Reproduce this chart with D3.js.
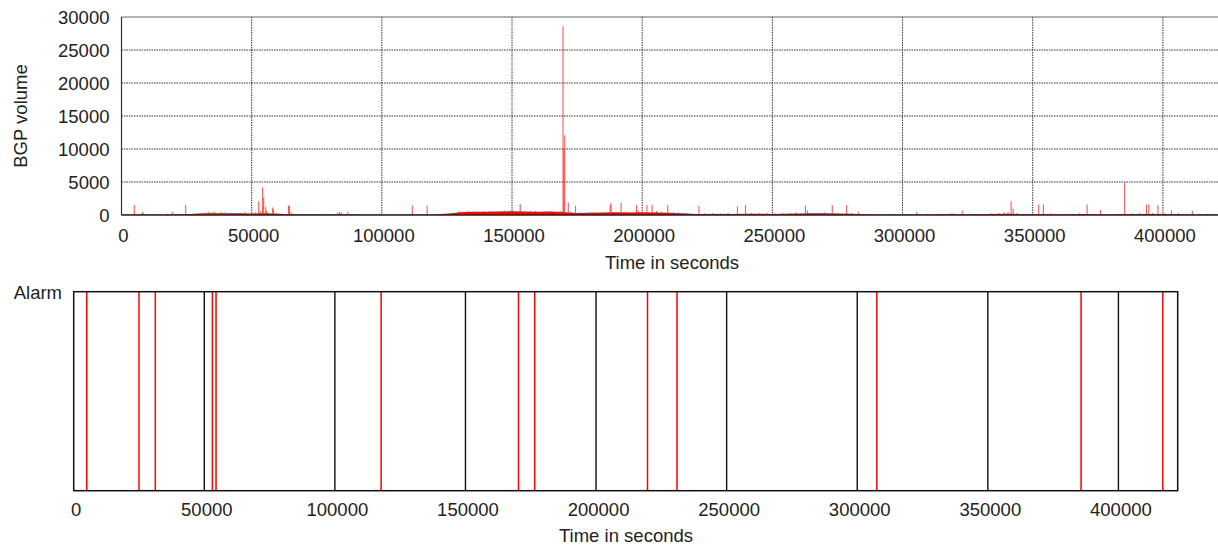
<!DOCTYPE html>
<html>
<head>
<meta charset="utf-8">
<script src="https://cdn.jsdelivr.net/npm/d3@7"></script>
<style>
  html, body { margin: 0; padding: 0; background: #fff; }
  svg { display: block; font-family: "Liberation Sans", Arial, Helvetica, sans-serif; }
</style>
</head>
<body>
<svg id="chart" width="1218" height="547"></svg>
<script>
// ---------- DATA ----------
const timeMax = 422700;                       // end of recorded period (s)
const xTicks = [0, 50000, 100000, 150000, 200000, 250000, 300000, 350000, 400000];
const yTicks = [0, 5000, 10000, 15000, 20000, 25000, 30000];
const xLabel = "Time in seconds";
const yLabel = "BGP volume";
const alarmLabel = "Alarm";

// background BGP volume level [time, volume]
const baseline = [
  [0,60],[5000,80],[10000,60],[15000,70],[20000,90],[25000,100],[30000,220],[35000,280],
  [40000,280],[45000,250],[50000,220],[55000,280],[60000,200],[65000,130],[70000,60],[75000,60],
  [80000,70],[85000,130],[90000,60],[95000,50],[100000,60],[105000,50],[110000,60],[115000,70],
  [120000,90],[125000,200],[130000,420],[135000,480],[140000,500],[145000,540],[150000,580],
  [155000,520],[160000,500],[165000,520],[170000,420],[175000,320],[180000,340],[185000,370],
  [190000,400],[195000,380],[200000,400],[205000,370],[210000,340],[215000,260],[220000,170],
  [225000,150],[230000,160],[235000,170],[240000,180],[245000,190],[250000,170],[255000,200],
  [260000,230],[265000,250],[270000,260],[275000,230],[280000,200],[285000,110],[290000,90],
  [295000,80],[300000,80],[305000,90],[310000,80],[315000,100],[320000,130],[325000,120],
  [330000,110],[335000,170],[340000,200],[345000,130],[350000,110],[355000,120],[360000,90],
  [365000,100],[370000,120],[375000,90],[380000,80],[385000,100],[390000,120],[395000,140],
  [400000,130],[405000,120],[410000,90],[415000,80],[420000,70],[422700,60]
];

// individual BGP volume impulses [time, volume]
const spikes = [
  [4900,1500],[8000,400],[8300,300],[15000,150],[17500,200],[19500,500],[21000,200],[24650,1500],[26000,150],
  [29000,250],[30500,300],[31500,350],[32500,400],[33500,450],[34300,350],[35200,450],[36000,400],[37000,300],
  [38200,450],[39000,350],[40000,400],[41000,300],[42000,350],[43000,300],[44500,250],[46000,300],[47500,450],
  [50500,300],[51500,400],[52700,2100],[53500,600],[54200,4200],[54600,2600],[55400,1250],[55750,600],[56500,300],
  [58050,1150],[58400,800],[59500,300],[61000,200],[64200,1450],[64500,1400],[65200,400],[67000,150],[72000,150],
  [76000,120],[79000,150],[83100,400],[83800,450],[84500,350],[86900,500],[90000,120],[99000,200],[101000,150],
  [104000,100],[111700,1450],[117400,1450],[121000,150],[124000,250],[126000,300],[129700,550],[131000,500],
  [133000,600],[135500,550],[137000,500],[139000,600],[141500,650],[143000,550],[145000,600],[147000,700],
  [149000,650],[151000,600],[153150,1650],[155000,550],[157000,500],[159000,600],[161000,500],[163000,600],
  [165000,550],[167000,500],[168500,600],
  [169600,28600],[169900,10000],[170250,12100],
  [171600,1900],[172500,500],[174400,1400],[176000,400],[178000,350],[180000,450],[182000,400],[184000,350],
  [186000,500],[187700,1500],[188000,1800],[190000,450],[191900,1800],[193500,500],[195000,450],[197800,1500],
  [198500,700],[200000,500],[201800,1500],[203800,1550],[205500,600],[207500,500],[209800,1500],[212000,400],
  [214000,350],[217000,300],[219000,250],[221800,1350],[224000,250],[227000,300],[230000,250],[233000,300],
  [236600,1300],[239700,1500],[242000,300],[245000,250],[248000,300],[251000,250],[254000,350],[257000,300],
  [259000,400],[262700,1400],[263500,700],[265000,350],[268000,300],[270000,400],[273000,1500],[275000,300],
  [278500,1500],[280500,300],[283000,500],[287000,150],[291000,200],[296000,150],[300500,150],[305400,400],
  [310000,150],[315000,200],[319000,300],[322900,650],[326000,200],[330000,150],[334000,250],[337000,350],
  [339000,400],[340500,450],[341700,2100],[342500,900],[344000,300],[347000,200],[352300,1600],[354100,1600],
  [357000,250],[361000,200],[365000,150],[368000,250],[370900,1600],[373000,200],[376000,750],[380000,150],
  [383000,200],[385300,4950],[388000,250],[391000,300],[393700,1600],[394600,1600],[396000,300],[398100,1500],
  [400500,250],[403300,700],[406000,250],[409000,200],[411300,600],[414000,150],[417000,200],[419000,150]
];

// alarm times (s)
const alarms = [5000, 25000, 31250, 53100, 54500, 117700, 170300, 176500, 219700, 231000, 307500, 385700, 417000];

// ---------- DRAW ----------
const svg = d3.select("#chart");
const font = 18.5;
const txt = "#222";

// ===== Top panel =====
const T = { left: 121.5, right: 1222, top: 17, bottom: 215 };
const x1 = d3.scaleLinear().domain([0, timeMax]).range([T.left, T.right]);
const y1 = d3.scaleLinear().domain([0, 30000]).range([T.bottom, T.top]);

svg.append("defs").append("clipPath").attr("id", "clipTop")
  .append("rect").attr("x", T.left).attr("y", T.top).attr("width", T.right - T.left).attr("height", T.bottom - T.top);

const gTop = svg.append("g");

// grid
gTop.append("g").selectAll("line").data(yTicks.filter(d => d > 0 && d < 30000)).join("line")
  .attr("x1", T.left).attr("x2", T.right).attr("y1", d => y1(d)).attr("y2", d => y1(d))
  .attr("stroke", "#333").attr("stroke-width", 1).attr("stroke-dasharray", "1.5,1");
gTop.append("g").selectAll("line").data(xTicks.filter(d => d > 0)).join("line")
  .attr("x1", d => x1(d)).attr("x2", d => x1(d)).attr("y1", T.top).attr("y2", T.bottom)
  .attr("stroke", "#333").attr("stroke-width", 1).attr("stroke-dasharray", "1.5,1");

// data
const plot = gTop.append("g").attr("clip-path", "url(#clipTop)");
plot.append("path").datum(baseline)
  .attr("d", d3.area().x(d => x1(d[0])).y0(y1(0)).y1(d => y1(d[1])))
  .attr("fill", "#ff0000");
plot.append("g").selectAll("line").data(spikes).join("line")
  .attr("x1", d => x1(d[0])).attr("x2", d => x1(d[0]))
  .attr("y1", y1(0)).attr("y2", d => y1(d[1]))
  .attr("stroke", "#ff2020").attr("stroke-opacity", 0.75).attr("stroke-width", 1.1);

// border
gTop.append("line").attr("x1", T.left).attr("x2", T.right).attr("y1", T.top).attr("y2", T.top)
  .attr("stroke", "#666").attr("stroke-width", 1.2);
gTop.append("line").attr("x1", T.left).attr("x2", T.left).attr("y1", T.top).attr("y2", T.bottom)
  .attr("stroke", "#333").attr("stroke-width", 1.2);
gTop.append("line").attr("x1", T.left).attr("x2", T.right).attr("y1", T.bottom).attr("y2", T.bottom)
  .attr("stroke", "#222").attr("stroke-width", 1.5);

// tick labels
gTop.append("g").selectAll("text").data(yTicks).join("text")
  .attr("x", 109.5).attr("y", d => y1(d)).attr("dy", "0.36em")
  .attr("text-anchor", "end").attr("font-size", font).attr("fill", txt).text(d => d);
gTop.append("g").selectAll("text").data(xTicks).join("text")
  .attr("x", d => x1(d) + 2).attr("y", 241.5)
  .attr("text-anchor", "middle").attr("font-size", font).attr("fill", txt).text(d => d);
gTop.append("text").attr("x", 672).attr("y", 268.5).attr("text-anchor", "middle")
  .attr("font-size", font).attr("fill", txt).text(xLabel);
gTop.append("text").attr("transform", "translate(26.5,116) rotate(-90)").attr("text-anchor", "middle")
  .attr("font-size", font).attr("fill", txt).text(yLabel);

// ===== Bottom panel =====
const B = { left: 73.7, right: 1177.7, top: 291.7, bottom: 490.7 };
const x2 = d3.scaleLinear().domain([0, timeMax]).range([B.left, B.right]);
const gBot = svg.append("g");

gBot.append("g").selectAll("line").data(xTicks.filter(d => d > 0)).join("line")
  .attr("x1", d => x2(d)).attr("x2", d => x2(d)).attr("y1", B.top).attr("y2", B.bottom)
  .attr("stroke", "#111").attr("stroke-width", 1.4);
gBot.append("g").selectAll("line").data(alarms).join("line")
  .attr("x1", d => x2(d)).attr("x2", d => x2(d)).attr("y1", B.top).attr("y2", B.bottom)
  .attr("stroke", "#ff0000").attr("stroke-width", 1.5);
gBot.append("rect").attr("x", B.left).attr("y", B.top)
  .attr("width", B.right - B.left).attr("height", B.bottom - B.top)
  .attr("fill", "none").attr("stroke", "#111").attr("stroke-width", 1.5);

gBot.append("g").selectAll("text").data(xTicks).join("text")
  .attr("x", d => x2(d) + 2.5).attr("y", 516)
  .attr("text-anchor", "middle").attr("font-size", font).attr("fill", txt).text(d => d);
gBot.append("text").attr("x", 626).attr("y", 541.5).attr("text-anchor", "middle")
  .attr("font-size", font).attr("fill", txt).text(xLabel);
gBot.append("text").attr("x", 62).attr("y", 299).attr("text-anchor", "end")
  .attr("font-size", font).attr("fill", txt).text(alarmLabel);
</script>
</body>
</html>
